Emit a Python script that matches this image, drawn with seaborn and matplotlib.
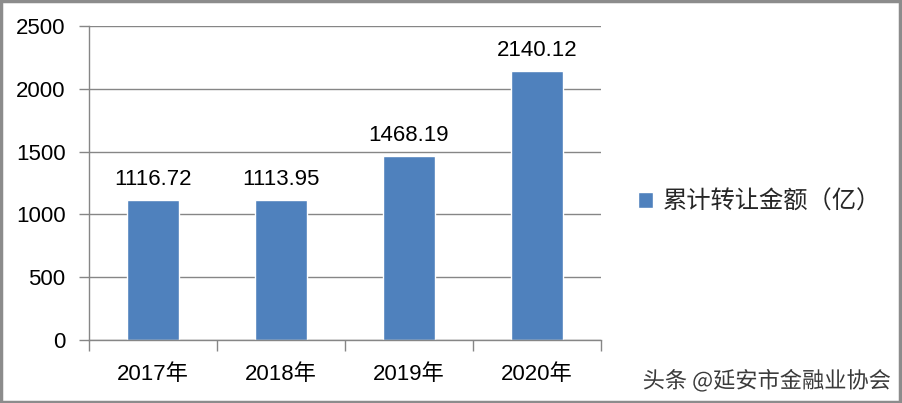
import matplotlib
matplotlib.use("Agg")
import matplotlib.pyplot as plt
import matplotlib.patheffects as pe
from matplotlib.patches import Rectangle
from matplotlib.ticker import FixedLocator
import seaborn as sns
import pandas as pd

# --- Data ---
years = ["2017年", "2018年", "2019年", "2020年"]
amounts = [1116.72, 1113.95, 1468.19, 2140.12]
series_name = "累计转让金额（亿）"
yticks = [0, 500, 1000, 1500, 2000, 2500]
watermark = "头条 @延安市金融业协会"

df = pd.DataFrame({"year": years, "amount": amounts})

sns.set_theme(style="white")
plt.rcParams["font.family"] = ["Liberation Sans", "Noto Sans CJK SC", "DejaVu Sans"]
plt.rcParams["axes.unicode_minus"] = False

bar_color = "#4F81BD"
grid_color = "#868686"

fig = plt.figure(figsize=(9.02, 4.03), dpi=100)
W, H = 902, 403
ax = fig.add_axes([89 / W, 1 - 340 / H, (601 - 89) / W, (340 - 26) / H])

sns.barplot(data=df, x="year", y="amount", color=bar_color, width=0.4,
            saturation=1, ax=ax, label=series_name)

ax.set_xlim(-0.5, len(years) - 0.5)
ax.set_ylim(0, 2500)
ax.set_yticks(yticks)
ax.set_xlabel("")
ax.set_ylabel("")

# horizontal gridlines
ax.yaxis.grid(True, color=grid_color, linewidth=1)
ax.xaxis.grid(False)
ax.set_axisbelow(True)

for side in ["top", "right"]:
    ax.spines[side].set_visible(False)
for side in ["left", "bottom"]:
    ax.spines[side].set_color(grid_color)
    ax.spines[side].set_linewidth(1)

# tick marks: y outward, x at category boundaries
ax.tick_params(axis="y", which="major", length=7, width=1, color=grid_color,
               labelsize=16, pad=10, labelcolor="black", left=True)
ax.tick_params(axis="x", which="major", length=0, labelsize=16, pad=17,
               labelcolor="black")
ax.xaxis.set_minor_locator(FixedLocator([i - 0.5 for i in range(len(years) + 1)]))
ax.tick_params(axis="x", which="minor", length=8, width=1, color=grid_color,
               bottom=True)

# value labels
for i, v in enumerate(amounts):
    ax.text(i, v + 80, f"{v:.2f}", ha="center", va="bottom", fontsize=16,
            color="black")

# legend
leg = ax.legend(loc="center left", bbox_to_anchor=(1.03, 0.44), frameon=False,
                fontsize=17.5, handlelength=0.6, handleheight=0.6,
                handletextpad=0.4)

# watermark
fig.text(0.988, 0.055, watermark, ha="right", va="center", fontsize=16,
         color="#3a3a3a", family=["Noto Sans CJK SC", "DejaVu Sans"],
         path_effects=[pe.withStroke(linewidth=2.5, foreground="white")])

# outer border
fig.patches.append(Rectangle((0.001, 0.002), 0.997, 0.995, transform=fig.transFigure,
                             fill=False, edgecolor="#8c8c8c", linewidth=2.5))

fig.savefig("out.png", dpi=100)
